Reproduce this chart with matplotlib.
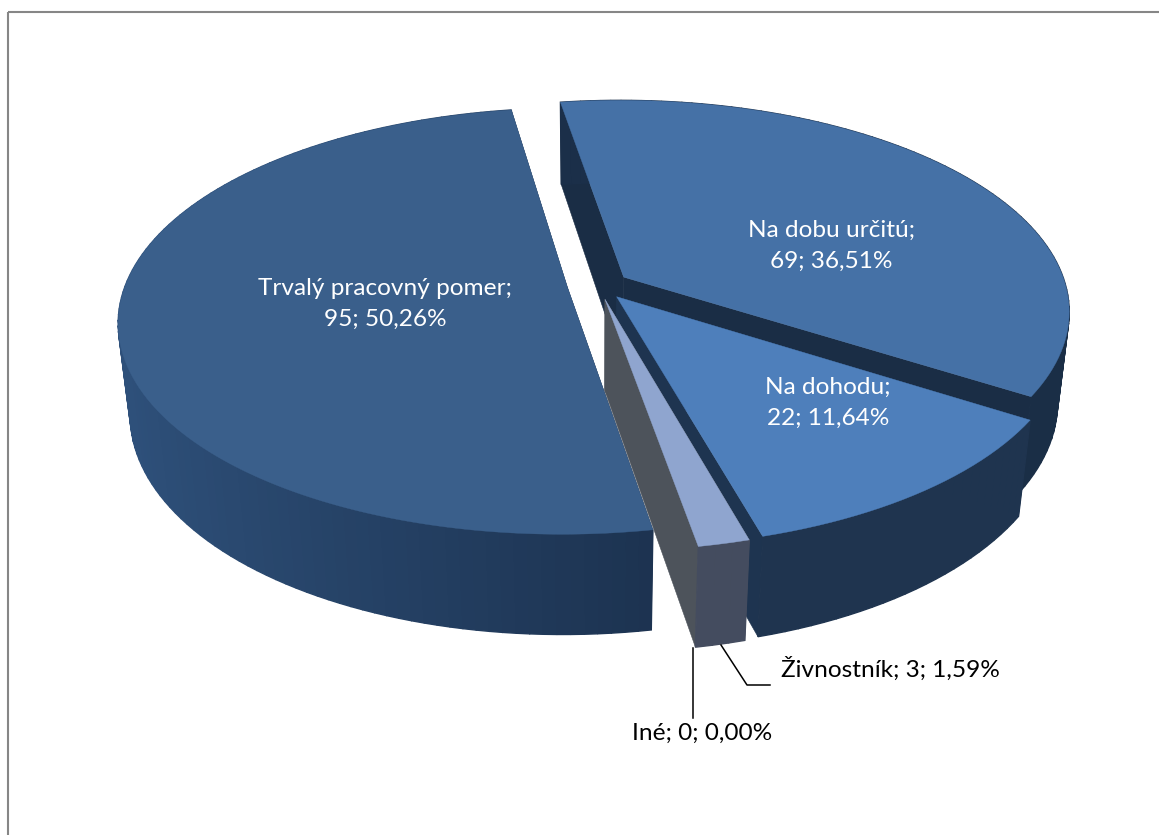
import numpy as np
import matplotlib
matplotlib.use("Agg")
import matplotlib.pyplot as plt
from matplotlib.patches import Polygon, Rectangle

categories = ["Trvalý pracovný pomer", "Na dobu určitú", "Na dohodu", "Živnostník", "Iné"]
values = [95, 69, 22, 3, 0]
percents = ["50,26%", "36,51%", "11,64%", "1,59%", "0,00%"]

top_colors = ["#3a5f8b", "#4571a6", "#4e7fbb", "#8fa5cf", "#9aa9c9"]
wall_light = ["#2e507a", "#1b2f49", "#1f344f", "#444c5f", "#444c60"]
wall_dark = ["#1a2f4b", "#1a2e46", "#1f344f", "#444c5f", "#444c60"]
cut_colors = ["#1a2f4b", "#1a2d45", "#1e3450", "#4d535b", "#4d535b"]

W, H = 1159, 835
CX, CY = 598.0, 285.0
A, K, D = 442.0, 207.0, 93.0
P, Q = 0.158, 0.025
EXPLODE = 0.07
START = 280.0


def proj(x, y, z):
    w = 1 + P * np.asarray(y) + Q * np.asarray(z)
    return CX + A * np.asarray(x) / w, CY - (K * np.asarray(y) - D * np.asarray(z)) / w


def mix(a, b, t):
    ca, cb = np.array(matplotlib.colors.to_rgb(a)), np.array(matplotlib.colors.to_rgb(b))
    return tuple(ca + (cb - ca) * t)


fig = plt.figure(figsize=(W / 100, H / 100), dpi=100)
ax = fig.add_axes([0, 0, 1, 1])
ax.set_xlim(0, W)
ax.set_ylim(H, 0)
ax.axis("off")
ax.add_patch(Rectangle((8, 12), W + 20, H + 20, fill=False, ec="#868686", lw=1.5))

total = sum(values)
spans = []
a0 = START
for v in values:
    a1 = a0 - 360.0 * v / total
    spans.append((a0, a1))
    a0 = a1


def draw_slice(i):
    a0, a1 = spans[i]
    if values[i] == 0:
        return
    mid = np.radians((a0 + a1) / 2)
    ox, oy = EXPLODE * np.cos(mid), EXPLODE * np.sin(mid)
    th = np.radians(np.linspace(a0, a1, max(4, int(abs(a1 - a0) / 1.5))))
    xs, ys = ox + np.cos(th), oy + np.sin(th)
    zt, zb = np.zeros_like(xs), np.ones_like(xs)
    apex_top = proj(ox, oy, 0.0)
    apex_bot = proj(ox, oy, 1.0)
    # radial cut faces
    for j in (0, -1):
        rt = proj(xs[j], ys[j], 0.0)
        rb = proj(xs[j], ys[j], 1.0)
        ax.add_patch(Polygon([apex_top, rt, rb, apex_bot], closed=True,
                             fc=cut_colors[i], ec=cut_colors[i], lw=0.4))
    # outer wall, back to front
    px_t, py_t = proj(xs, ys, zt)
    px_b, py_b = proj(xs, ys, zb)
    order = np.argsort(-(ys[:-1] + ys[1:]))
    for n in order:
        xmid = (xs[n] + xs[n + 1]) / 2
        t = np.clip((xmid + 1) / 1.25, 0, 1) if i == 0 else (n / max(1, len(xs) - 2))
        c = mix(wall_light[i], wall_dark[i], t)
        ax.add_patch(Polygon([(px_t[n], py_t[n]), (px_t[n + 1], py_t[n + 1]),
                              (px_b[n + 1], py_b[n + 1]), (px_b[n], py_b[n])],
                             closed=True, fc=c, ec=c, lw=1.0))
    # top
    pts = [apex_top] + list(zip(px_t, py_t))
    ax.add_patch(Polygon(pts, closed=True, fc=top_colors[i], ec=top_colors[i], lw=0.3))


for i in (1, 0, 2, 3, 4):
    draw_slice(i)

# leader lines
ax.plot([693, 693], [648, 718], color="black", lw=1.1)
ax.plot([721, 747, 770], [645, 685, 685], color="black", lw=1.1)

FONT = ["Lato", "DejaVu Sans"]
FS = 17.6
LS = 1.55
ax.text(385, 304, f"{categories[0]};\n{values[0]}; {percents[0]}", color="white", ha="center", va="center",
        fontsize=FS, family=FONT, linespacing=LS)
ax.text(831, 246, f"{categories[1]};\n{values[1]}; {percents[1]}", color="white", ha="center", va="center",
        fontsize=FS, family=FONT, linespacing=LS)
ax.text(828, 403, f"{categories[2]};\n{values[2]}; {percents[2]}", color="white", ha="center", va="center",
        fontsize=FS, family=FONT, linespacing=LS)
ax.text(890, 669, f"{categories[3]}; {values[3]}; {percents[3]}", color="black", ha="center", va="center",
        fontsize=FS, family=FONT)
ax.text(702, 733, f"{categories[4]}; {values[4]}; {percents[4]}", color="black", ha="center", va="center",
        fontsize=FS, family=FONT)

fig.savefig("out.png", dpi=100)
